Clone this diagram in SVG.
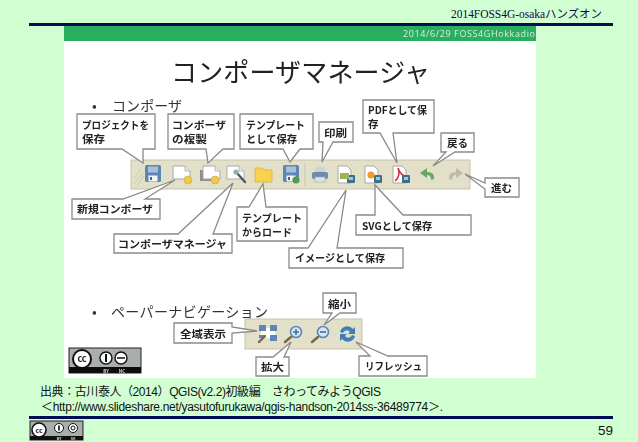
<svg xmlns="http://www.w3.org/2000/svg" width="638" height="442" viewBox="0 0 638 442">
<style>
text{font-family:"Noto Sans CJK JP","Liberation Sans",sans-serif}
.co{fill:#fff;stroke:#8a8a8a;stroke-width:1.3;stroke-linejoin:miter}
.t{font-size:10.500px;font-weight:700;fill:#222}
.tb{fill:#e3e0c9;stroke:#c6c3ab;stroke-width:1}
.flop{fill:#5d86b5}
.pg{fill:#fff;stroke:#a9a9a9;stroke-width:1}
.ybadge{fill:#f2c84b;stroke:#c9a53a;stroke-width:.6}
.bbadge{fill:#3e6f8e}
.hd{fill:#7a6a3a;stroke:#7a6a3a;stroke-width:2.400;stroke-linecap:round}
.lens{fill:#d7e6f4;stroke:#5d86b5;stroke-width:1.600}
.bar{fill:#000c55}
</style>
<defs>
<filter id="soft" x="-5%" y="-5%" width="110%" height="110%"><feGaussianBlur stdDeviation="0.45"/></filter>
<g id="floppy"><rect class="flop" width="16" height="17" rx="1.500"/><rect x="3" y="1.500" width="10" height="6" fill="#a9c0d8"/><rect x="3.500" y="10.500" width="9" height="6" fill="#f2f4f6"/><rect x="5" y="12" width="2" height="3" fill="#44648a"/></g>
<g id="sheet"><path class="pg" d="M0 0H12L17 5V13H0Z"/><path d="M12 0V5H17" fill="#e8e8e8" stroke="#a9a9a9" stroke-width=".8"/></g>
<g id="docb"><path class="pg" d="M0 0H9L13 4V17H0Z"/><rect x="9" y="9" width="8" height="8" rx="1" class="bbadge"/><rect x="11" y="11" width="4" height="3" fill="#a9c4d6"/></g>
</defs>
<rect width="638" height="442" fill="#d2ffd2"/>
<rect class="bar" x="29" y="23" width="584" height="3"/>
<rect class="bar" x="29" y="416" width="584" height="3"/>
<text x="451" y="18" font-size="11.500" fill="#0a0a40" textLength="151" lengthAdjust="spacingAndGlyphs" style="font-family:'Liberation Serif','Noto Sans CJK JP',serif">2014FOSS4G-osakaハンズオン</text>
<g filter="url(#soft)">
<rect x="64" y="26" width="472" height="352" fill="#fff"/>
<rect x="64" y="26" width="472" height="15" fill="#2bae5e"/>
<text x="403" y="37" font-size="9" fill="#d5efdd" textLength="132" style="font-family:'Open Sans',sans-serif">2014/6/29   FOSS4GHokkadio</text>
<text x="171" y="82" font-size="26" fill="#222" textLength="259">コンポーザマネージャ</text>
<text x="92" y="111" font-size="14" fill="#333">•</text>
<text x="112" y="111" font-size="14" fill="#333" textLength="70">コンポーザ</text>
<text x="92" y="317" font-size="14" fill="#333">•</text>
<text x="111" y="317" font-size="14" fill="#333" textLength="157">ペーパーナビゲーション</text>

<g id="toolbar-main">
<rect class="tb" x="131" y="160" width="339" height="29"/>
<path d="M134 178l7-9M134 184l9-12M137 186l7-10" stroke="#cfccb2" stroke-width="1" fill="none"/>
<path d="M305 163V186" stroke="#c9c6ae"/>
<use href="#floppy" x="145" y="165"/>
<use href="#sheet" x="173" y="166"/><circle class="ybadge" cx="188" cy="180" r="4"/>
<rect x="200" y="170" width="15" height="11" fill="#8d8d8d"/><use href="#sheet" x="203" y="166"/><circle class="ybadge" cx="215" cy="180" r="4"/>
<use href="#sheet" x="227" y="166"/><path class="hd" d="M236 172L245 182" style="stroke:#555"/><circle cx="236" cy="172" r="2.600" fill="#9aa"/>
<path d="M255 168h7l2 2h8v12h-17z" fill="#f6d24f" stroke="#dcb337" stroke-width=".8"/>
<use href="#floppy" x="283" y="165"/><circle cx="296" cy="180" r="3.600" fill="#4f9d4f"/>
<rect x="315" y="167" width="10" height="6" fill="#c9d3dc"/><rect x="312" y="172" width="16" height="7" rx="2" fill="#6f8ba6"/><rect x="315" y="177" width="10" height="5" fill="#dfe3e8" stroke="#9aa7b3" stroke-width=".6"/>
<use href="#docb" x="338" y="166"/><rect x="340" y="173" width="9" height="6" fill="#9bb35b"/>
<use href="#docb" x="365" y="166"/><circle cx="371" cy="175" r="3.600" fill="#ee9a2f"/>
<use href="#docb" x="393" y="166"/><path d="M395 181Q401 176 398 168Q401 176 406 176" fill="none" stroke="#d0323c" stroke-width="1.600"/>
<path d="M434 179Q435 172 427 172V168L420 173L427 178V175Q431 175 431 180Z" fill="#67a863"/>
<path d="M449 179Q448 172 456 172V168L463 173L456 178V175Q452 175 452 180Z" fill="#bdbcaa"/>
</g>
<g id="toolbar-paper">
<rect class="tb" x="245" y="319" width="117" height="30"/>
<rect x="261" y="328" width="14" height="10" fill="#fff"/>
<g fill="#5d86b5"><rect x="259" y="325" width="7" height="6"/><rect x="270" y="325" width="7" height="6"/><rect x="259" y="335" width="5" height="3"/><rect x="270" y="335" width="7" height="6"/></g>
<path class="hd" d="M259 342L265 336"/>
<path class="hd" d="M285 342L291 337"/><circle class="lens" cx="296" cy="332" r="5.500"/><path d="M293 332h6M296 329v6" stroke="#3f6fa5" stroke-width="1.600"/>
<path class="hd" d="M312 342L318 337"/><circle class="lens" cx="323" cy="332" r="5.500"/><path d="M320 332h6" stroke="#3f6fa5" stroke-width="1.600"/>
<path d="M340 332a7.500 7.500 0 0 1 13-3l2-2v7h-7l2-2a4 4 0 0 0-7 1zM355 336a7.500 7.500 0 0 1-13 3l-2 2v-7h7l-2 2a4 4 0 0 0 7-1z" fill="#3f7fb5"/>
</g>

<g id="n-save-project"><path class="co" d="M77 114H155V149H143V163L122 149H77Z"/><text class="t" x="82" y="129" textLength="67" lengthAdjust="spacingAndGlyphs">プロジェクトを</text><text class="t" x="82" y="143" textLength="23" lengthAdjust="spacingAndGlyphs">保存</text></g>
<g id="n-dup"><path class="co" d="M168 114H234V149H223L208 163L206 149H168Z"/><text class="t" x="172" y="129" textLength="54" lengthAdjust="spacingAndGlyphs">コンポーザ</text><text class="t" x="172" y="143" textLength="35" lengthAdjust="spacingAndGlyphs">の複製</text></g>
<g id="n-save-template"><path class="co" d="M240 114H313V149H300L290 162L283 149H240Z"/><text class="t" x="246" y="129" textLength="59" lengthAdjust="spacingAndGlyphs">テンプレート</text><text class="t" x="246" y="143" textLength="51" lengthAdjust="spacingAndGlyphs">として保存</text></g>
<g id="n-print"><path class="co" d="M319 122H353V142H333L322 162L323 142H319Z"/><text class="t" x="324" y="137" textLength="23" lengthAdjust="spacingAndGlyphs">印刷</text></g>
<g id="n-pdf"><path class="co" d="M363 100H434V133H393L397 163L380 133H363Z"/><text class="t" x="368" y="114" textLength="59" lengthAdjust="spacingAndGlyphs">PDFとして保</text><text class="t" x="368" y="128">存</text></g>
<g id="n-back"><path class="co" d="M441 133H474V152H455L433 166L446 152H441Z"/><text class="t" x="447" y="147" textLength="21" lengthAdjust="spacingAndGlyphs">戻る</text></g>
<g id="n-forward"><path class="co" d="M485 178H519V197H485V189L465 174L485 183Z"/><text class="t" x="491" y="192" textLength="21" lengthAdjust="spacingAndGlyphs">進む</text></g>
<g id="n-new"><path class="co" d="M72 199H123L175 180L145 199H160V219H72Z"/><text class="t" x="77" y="213" textLength="76" lengthAdjust="spacingAndGlyphs">新規コンポーザ</text></g>
<g id="n-manager"><path class="co" d="M114 234H178L233 183L213 234H232V253H114Z"/><text class="t" x="118" y="248" textLength="109" lengthAdjust="spacingAndGlyphs">コンポーザマネージャ</text></g>
<g id="n-load"><path class="co" d="M237 207H249L263 184L266 207H307V241H237Z"/><text class="t" x="242" y="222" textLength="60" lengthAdjust="spacingAndGlyphs">テンプレート</text><text class="t" x="242" y="236" textLength="50" lengthAdjust="spacingAndGlyphs">からロード</text></g>
<g id="n-image"><path class="co" d="M289 248H308L346 190L337 248H403V268H289Z"/><text class="t" x="295" y="262" textLength="90" lengthAdjust="spacingAndGlyphs">イメージとして保存</text></g>
<g id="n-svg"><path class="co" d="M356 215H375V185L403 215H471V235H356Z"/><text class="t" x="362" y="230" textLength="70" lengthAdjust="spacingAndGlyphs">SVGとして保存</text></g>
<g id="n-full"><path class="co" d="M174 323H232V327L257 331L232 333V343H174Z"/><text class="t" x="180" y="338" textLength="46" lengthAdjust="spacingAndGlyphs">全域表示</text></g>
<g id="n-zoomin"><path class="co" d="M256 357H273L291 342L284 357H289V376H256Z"/><text class="t" x="261" y="371" textLength="23" lengthAdjust="spacingAndGlyphs">拡大</text></g>
<g id="n-zoomout"><path class="co" d="M323 293H356V313H340L324 325L332 313H323Z"/><text class="t" x="328" y="308" textLength="23" lengthAdjust="spacingAndGlyphs">縮小</text></g>
<g id="n-refresh"><path class="co" d="M359 356H370L356 342L388 356H427V376H359Z"/><text class="t" x="365" y="370" textLength="57" lengthAdjust="spacingAndGlyphs">リフレッシュ</text></g>

<g id="cc-slide">
<rect x="69" y="348" width="72" height="25" fill="#a9aeaa" stroke="#222" stroke-width="1"/>
<rect x="69" y="367" width="72" height="6" fill="#111"/>
<circle cx="82" cy="359" r="9" fill="#fff" stroke="#111" stroke-width="2"/>
<text x="82" y="362" font-size="9" font-weight="700" text-anchor="middle" fill="#111">cc</text>
<circle cx="106" cy="358" r="6" fill="#fff" stroke="#111" stroke-width="1.400"/><rect x="105" y="354" width="2" height="8" fill="#111"/>
<circle cx="121" cy="358" r="6" fill="#fff" stroke="#111" stroke-width="1.400"/><path d="M117 358h8" stroke="#111" stroke-width="1.500"/>
<text x="106" y="372.500" font-size="4.500" font-weight="700" text-anchor="middle" fill="#ddd">BY</text>
<text x="122" y="372.500" font-size="4.500" font-weight="700" text-anchor="middle" fill="#ddd">NC</text>
</g>
</g>

<text x="40" y="396" font-size="12" fill="#111" textLength="341" style="font-family:'Liberation Sans','Noto Sans CJK JP',sans-serif">出典：古川泰人（2014）QGIS(v2.2)初級編　さわってみようQGIS</text>
<text x="41" y="411" font-size="12" fill="#111" textLength="402" style="font-family:'Liberation Sans','Noto Sans CJK JP',sans-serif">＜http://www.slideshare.net/yasutofurukawa/qgis-handson-2014ss-36489774＞.</text>

<g id="cc-footer">
<rect x="30" y="421" width="53" height="19" fill="#a9aeaa" stroke="#222" stroke-width="1"/>
<rect x="30" y="436" width="53" height="4" fill="#111"/>
<circle cx="39" cy="430" r="7" fill="#fff" stroke="#111" stroke-width="1.600"/>
<text x="39" y="432.500" font-size="7" font-weight="700" text-anchor="middle" fill="#111">cc</text>
<circle cx="59" cy="428" r="4.500" fill="#fff" stroke="#111"/><rect x="58.200" y="425.500" width="1.600" height="5" fill="#111"/>
<circle cx="73" cy="428" r="4.500" fill="#fff" stroke="#111"/><circle cx="73" cy="428" r="2" fill="none" stroke="#111"/>
<text x="59" y="439.500" font-size="3.500" font-weight="700" text-anchor="middle" fill="#ddd">BY</text>
<text x="73" y="439.500" font-size="3.500" font-weight="700" text-anchor="middle" fill="#ddd">SA</text>
</g>
<text x="613" y="435" font-size="13.500" text-anchor="end" fill="#111" style="font-family:'Liberation Sans',sans-serif">59</text>
</svg>
